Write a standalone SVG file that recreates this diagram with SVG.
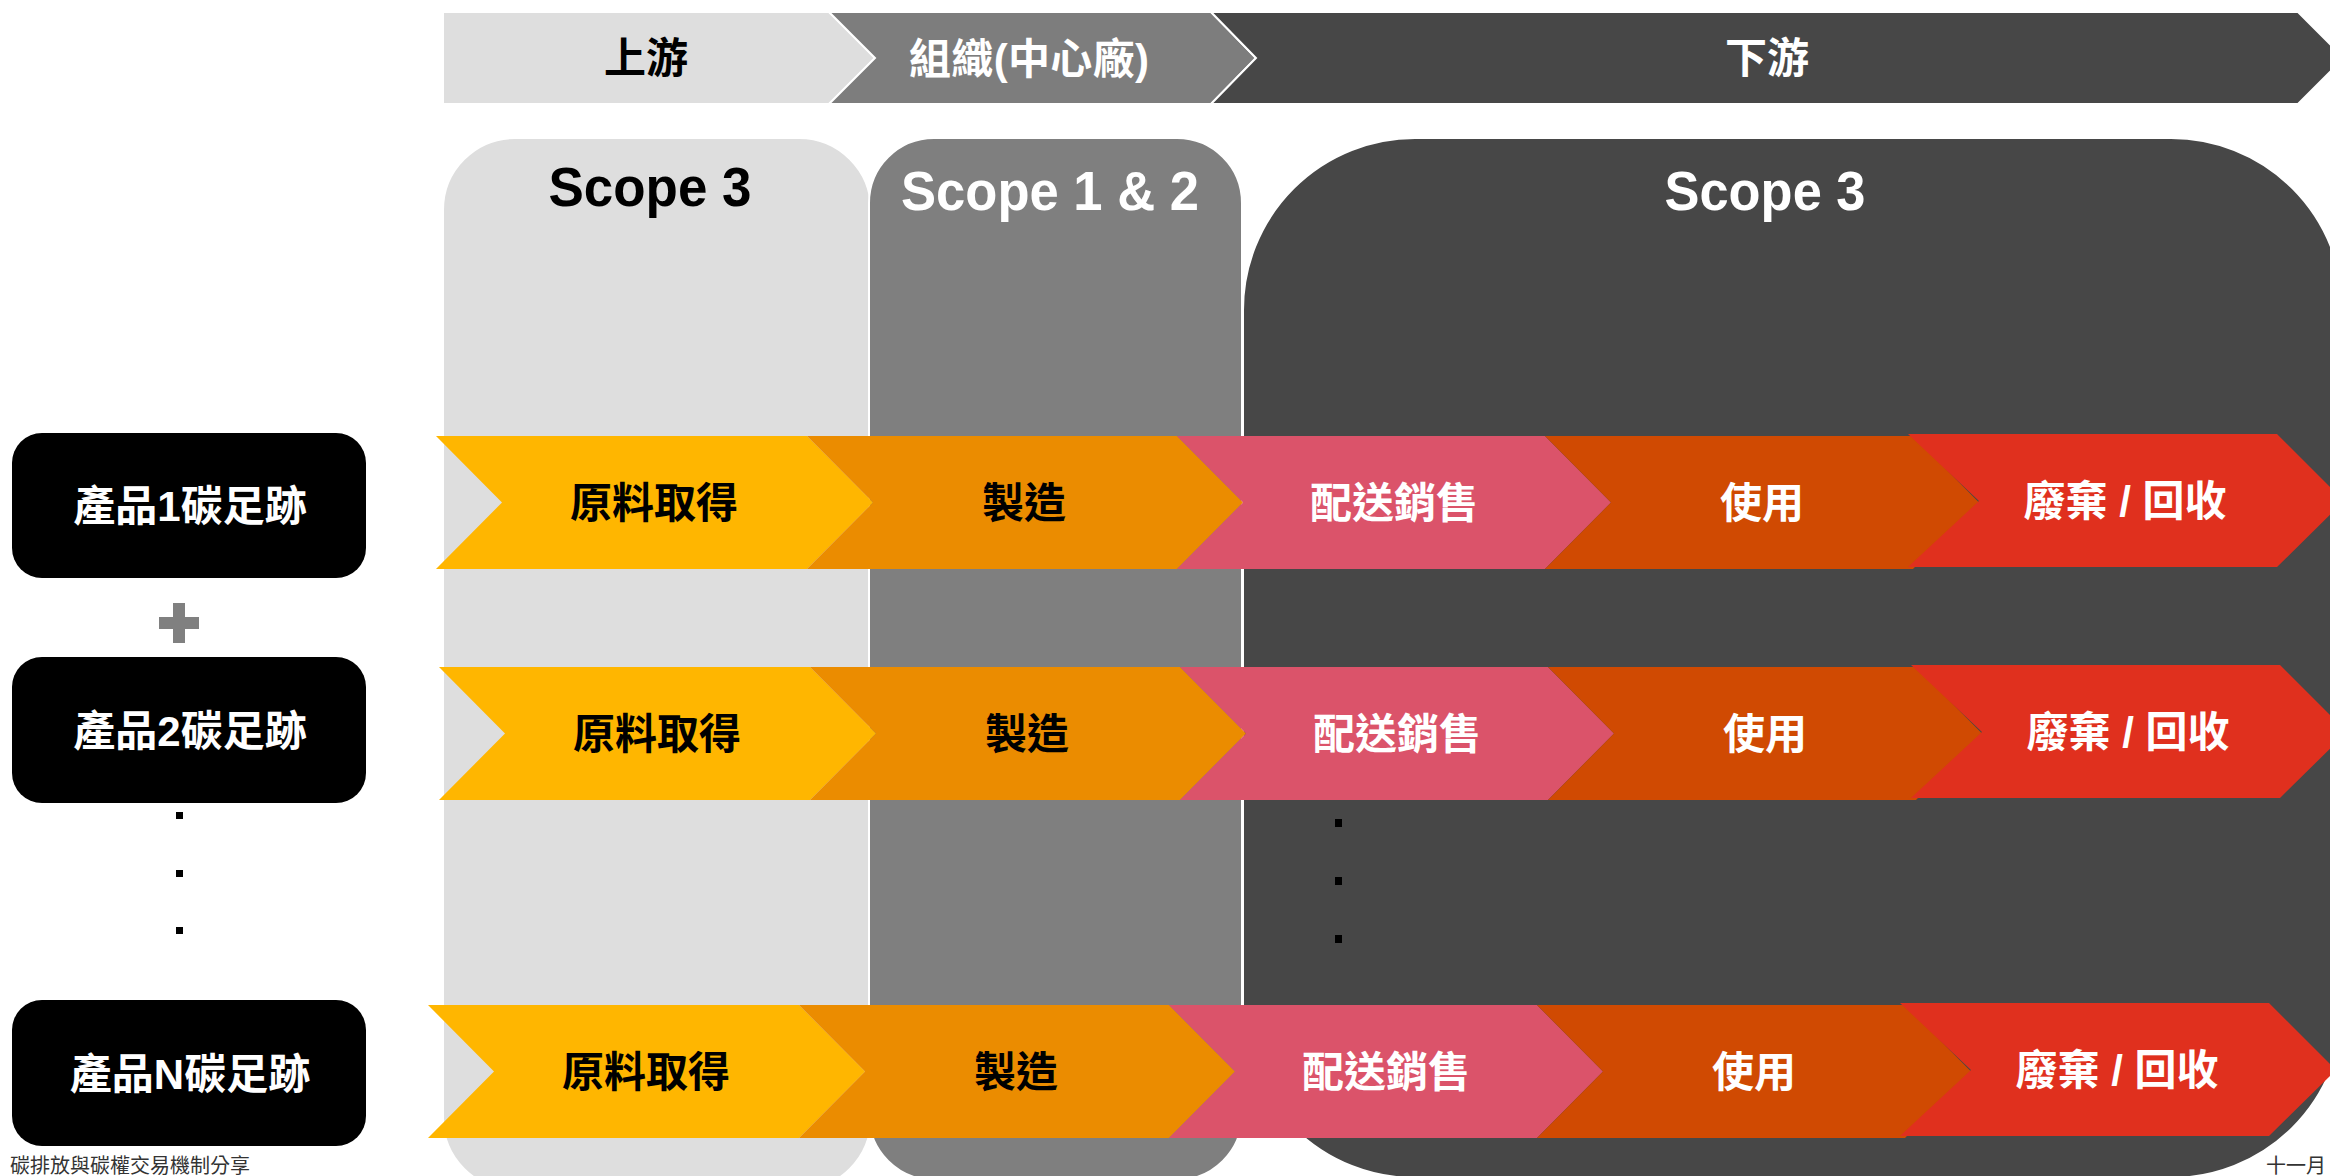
<svg xmlns="http://www.w3.org/2000/svg" width="2330" height="1176" viewBox="0 0 2330 1176">
  <style>
    text { font-family: "Liberation Sans", "Noto Sans CJK TC", sans-serif; }
    .band { stroke: #ffffff; stroke-width: 2; }
    .panel { stroke: #ffffff; stroke-width: 2; }
    .bandtxt { font-size: 42px; font-weight: bold; text-anchor: middle; }
    .scope { font-size: 56px; font-weight: bold; text-anchor: middle; }
    .box { fill: #000000; }
    .boxtxt { font-size: 42px; font-weight: bold; fill: #ffffff; text-anchor: middle; }
    .lbl { font-size: 42px; font-weight: bold; text-anchor: middle; }
    .dk { fill: #000000; }
    .wt { fill: #ffffff; }
    .c1 { fill: #FFB600; }
    .c2 { fill: #EB8C00; }
    .c3 { fill: #DB536A; }
    .c4 { fill: #D04A02; }
    .c5 { fill: #E0301E; }
    .foot { font-size: 20px; fill: #333333; }
  </style>

  <!-- Top value-chain band -->
  <g id="band-upstream">
    <polygon class="band" fill="#DEDEDE" points="443,12 829,12 875,58 829,104 443,104"/>
    <text class="bandtxt" x="646" y="73" fill="#000000">上游</text>
  </g>
  <g id="band-organization">
    <polygon class="band" fill="#7D7D7D" points="829,12 1211,12 1256,58 1211,104 829,104 875,58"/>
    <text class="bandtxt" x="1029" y="74" fill="#ffffff" textLength="240" lengthAdjust="spacing">組織(中心廠)</text>
  </g>
  <g id="band-downstream">
    <polygon class="band" fill="#474747" points="1211,12 2298,12 2344,58 2298,104 1211,104 1256,58"/>
    <text class="bandtxt" x="1767" y="73" fill="#ffffff">下游</text>
  </g>

  <!-- Scope panels -->
  <g id="panel-scope3-upstream">
    <rect class="panel" x="443" y="138" width="428" height="1052" rx="72" ry="72" fill="#DEDEDE"/>
    <text class="scope" x="650" y="206" fill="#000000" textLength="203" lengthAdjust="spacingAndGlyphs">Scope 3</text>
  </g>
  <g id="panel-scope12">
    <rect class="panel" x="869" y="138" width="373" height="1042" rx="65" ry="65" fill="#7F7F7F"/>
    <text class="scope" x="1050" y="210" fill="#ffffff" textLength="298" lengthAdjust="spacingAndGlyphs">Scope 1 &amp; 2</text>
  </g>
  <g id="panel-scope3-downstream">
    <rect class="panel" x="1243" y="138" width="1100" height="1040" rx="172" ry="172" fill="#474747"/>
    <text class="scope" x="1765" y="210" fill="#ffffff" textLength="201" lengthAdjust="spacingAndGlyphs">Scope 3</text>
  </g>

  <!-- Product boxes -->
  <g id="product-1">
    <rect class="box" x="12" y="433" width="354" height="145" rx="30" ry="30"/>
    <text class="boxtxt" x="190" y="521">產品1碳足跡</text>
  </g>
  <g id="plus">
    <rect x="159" y="617" width="40" height="12" fill="#808080"/>
    <rect x="173" y="603" width="12" height="40" fill="#808080"/>
  </g>
  <g id="product-2">
    <rect class="box" x="12" y="657" width="354" height="146" rx="30" ry="30"/>
    <text class="boxtxt" x="190" y="746">產品2碳足跡</text>
  </g>
  <g id="ellipsis-left">
    <rect x="176" y="812" width="7" height="7" fill="#000000"/>
    <rect x="176" y="870" width="7" height="7" fill="#000000"/>
    <rect x="176" y="927" width="7" height="7" fill="#000000"/>
  </g>
  <g id="product-n">
    <rect class="box" x="12" y="1000" width="354" height="146" rx="30" ry="30"/>
    <text class="boxtxt" x="190" y="1089">產品N碳足跡</text>
  </g>

  <!-- Life-cycle chevron rows -->
  <g id="row-1">
    <g id="row1-raw"><polygon class="c1" points="436,436 807,436 873,502.5 807,569 436,569 502,502.5"/><text class="lbl dk" x="654" y="518">原料取得</text></g>
    <g id="row1-make"><polygon class="c2" points="807,436 1177,436 1243,502.5 1177,569 807,569 873,502.5"/><text class="lbl dk" x="1024" y="518">製造</text></g>
    <g id="row1-dist"><polygon class="c3" points="1177,436 1545,436 1611,502.5 1545,569 1177,569 1243,502.5"/><text class="lbl wt" x="1394" y="518">配送銷售</text></g>
    <g id="row1-use"><polygon class="c4" points="1545,436 1913,436 1979,502.5 1913,569 1545,569 1611,502.5"/><text class="lbl wt" x="1762" y="518">使用</text></g>
    <g id="row1-eol"><polygon class="c5" points="1908,434 2277,434 2344,501 2277,567 1908,567 1979,501"/><text class="lbl wt" x="2125" y="516">廢棄 / 回收</text></g>
  </g>
  <g id="row-2" transform="translate(3,231)">
    <g id="row2-raw"><polygon class="c1" points="436,436 807,436 873,502.5 807,569 436,569 502,502.5"/><text class="lbl dk" x="654" y="518">原料取得</text></g>
    <g id="row2-make"><polygon class="c2" points="807,436 1177,436 1243,502.5 1177,569 807,569 873,502.5"/><text class="lbl dk" x="1024" y="518">製造</text></g>
    <g id="row2-dist"><polygon class="c3" points="1177,436 1545,436 1611,502.5 1545,569 1177,569 1243,502.5"/><text class="lbl wt" x="1394" y="518">配送銷售</text></g>
    <g id="row2-use"><polygon class="c4" points="1545,436 1913,436 1979,502.5 1913,569 1545,569 1611,502.5"/><text class="lbl wt" x="1762" y="518">使用</text></g>
    <g id="row2-eol"><polygon class="c5" points="1908,434 2277,434 2344,501 2277,567 1908,567 1979,501"/><text class="lbl wt" x="2125" y="516">廢棄 / 回收</text></g>
  </g>
  <g id="ellipsis-middle">
    <rect x="1335" y="819" width="7" height="8" fill="#000000"/>
    <rect x="1335" y="877" width="7" height="8" fill="#000000"/>
    <rect x="1335" y="935" width="7" height="8" fill="#000000"/>
  </g>
  <g id="row-n" transform="translate(-8,569)">
    <g id="rown-raw"><polygon class="c1" points="436,436 807,436 873,502.5 807,569 436,569 502,502.5"/><text class="lbl dk" x="654" y="518">原料取得</text></g>
    <g id="rown-make"><polygon class="c2" points="807,436 1177,436 1243,502.5 1177,569 807,569 873,502.5"/><text class="lbl dk" x="1024" y="518">製造</text></g>
    <g id="rown-dist"><polygon class="c3" points="1177,436 1545,436 1611,502.5 1545,569 1177,569 1243,502.5"/><text class="lbl wt" x="1394" y="518">配送銷售</text></g>
    <g id="rown-use"><polygon class="c4" points="1545,436 1913,436 1979,502.5 1913,569 1545,569 1611,502.5"/><text class="lbl wt" x="1762" y="518">使用</text></g>
    <g id="rown-eol"><polygon class="c5" points="1908,434 2277,434 2344,501 2277,567 1908,567 1979,501"/><text class="lbl wt" x="2125" y="516">廢棄 / 回收</text></g>
  </g>

  <!-- Footer -->
  <text class="foot" x="10" y="1173">碳排放與碳權交易機制分享</text>
  <text class="foot" x="2266" y="1173">十一月</text>
</svg>
